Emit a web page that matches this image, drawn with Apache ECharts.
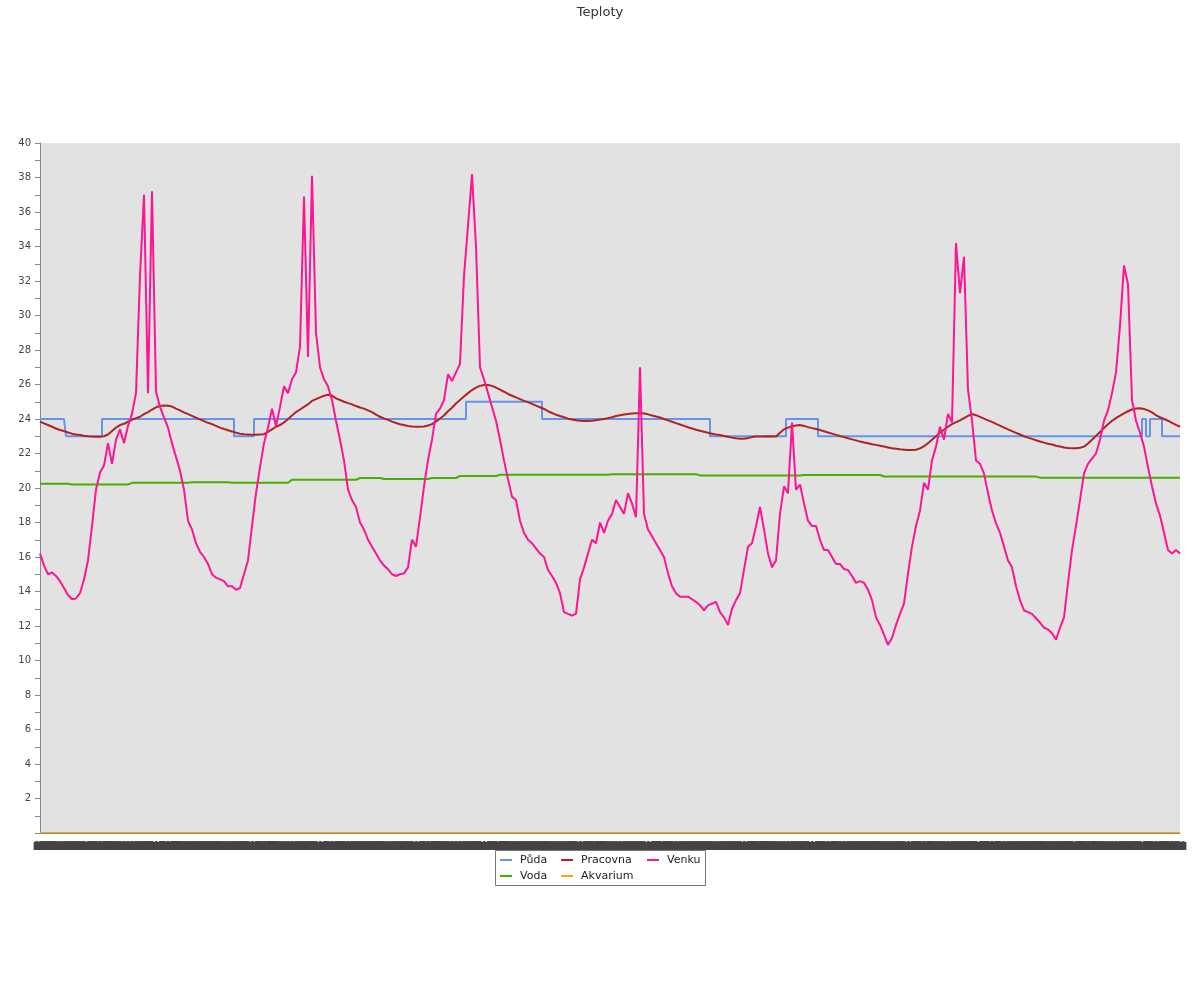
<!DOCTYPE html>
<html><head><meta charset="utf-8">
<script src="https://cdn.jsdelivr.net/npm/echarts@6/dist/echarts.min.js"></script>
<style>html,body{margin:0;padding:0;background:#fff}#c{width:1200px;height:1000px}</style>
</head><body><div id="c"></div>
<script>
// time axis: 286 samples, ~35 min apart, starting 22:00
const startMinute = 22 * 60;
const stepMinutes = 35;
const pointCount = 286;

const puda = [
24,24,24,24,24,24,24,23,23,23,
23,23,23,23,23,23,24,24,24,24,
24,24,24,24,24,24,24,24,24,24,
24,24,24,24,24,24,24,24,24,24,
24,24,24,24,24,24,24,24,24,23,
23,23,23,23,24,24,24,24,24,24,
24,24,24,24,24,24,24,24,24,24,
24,24,24,24,24,24,24,24,24,24,
24,24,24,24,24,24,24,24,24,24,
24,24,24,24,24,24,24,24,24,24,
24,24,24,24,24,24,24,25,25,25,
25,25,25,25,25,25,25,25,25,25,
25,25,25,25,25,25,24,24,24,24,
24,24,24,24,24,24,24,24,24,24,
24,24,24,24,24,24,24,24,24,24,
24,24,24,24,24,24,24,24,24,24,
24,24,24,24,24,24,24,24,23,23,
23,23,23,23,23,23,23,23,23,23,
23,23,23,23,23,23,23,24,24,24,
24,24,24,24,24,23,23,23,23,23,
23,23,23,23,23,23,23,23,23,23,
23,23,23,23,23,23,23,23,23,23,
23,23,23,23,23,23,23,23,23,23,
23,23,23,23,23,23,23,23,23,23,
23,23,23,23,23,23,23,23,23,23,
23,23,23,23,23,23,23,23,23,23,
23,23,23,23,23,23,23,23,23,23,
23,23,23,23,23,23,24,23,24,24,
24,23,23,23,23,23];

const voda = [
20.25,20.25,20.25,20.25,20.25,20.25,20.25,20.25,20.2,20.2,
20.2,20.2,20.2,20.2,20.2,20.2,20.2,20.2,20.2,20.2,
20.2,20.2,20.2,20.3,20.3,20.3,20.3,20.3,20.3,20.3,
20.3,20.3,20.3,20.3,20.3,20.3,20.3,20.3,20.33,20.33,
20.33,20.33,20.33,20.33,20.33,20.33,20.33,20.33,20.3,20.3,
20.3,20.3,20.3,20.3,20.3,20.3,20.3,20.3,20.3,20.3,
20.3,20.3,20.3,20.48,20.48,20.48,20.48,20.48,20.48,20.48,
20.48,20.48,20.48,20.48,20.48,20.48,20.48,20.48,20.48,20.48,
20.58,20.58,20.58,20.58,20.58,20.58,20.52,20.52,20.52,20.52,
20.52,20.52,20.52,20.52,20.52,20.52,20.52,20.52,20.58,20.58,
20.58,20.58,20.58,20.58,20.58,20.7,20.7,20.7,20.7,20.7,
20.7,20.7,20.7,20.7,20.7,20.77,20.77,20.77,20.77,20.77,
20.77,20.77,20.77,20.77,20.77,20.77,20.77,20.77,20.77,20.77,
20.77,20.77,20.77,20.77,20.77,20.77,20.77,20.77,20.77,20.77,
20.77,20.77,20.77,20.8,20.8,20.8,20.8,20.8,20.8,20.8,
20.8,20.8,20.8,20.8,20.8,20.8,20.8,20.8,20.8,20.8,
20.8,20.8,20.8,20.8,20.8,20.73,20.73,20.73,20.73,20.73,
20.73,20.73,20.73,20.73,20.73,20.73,20.73,20.73,20.73,20.73,
20.73,20.73,20.73,20.73,20.73,20.73,20.73,20.73,20.73,20.73,
20.73,20.75,20.75,20.75,20.75,20.75,20.75,20.75,20.75,20.75,
20.75,20.75,20.75,20.75,20.75,20.75,20.75,20.75,20.75,20.75,
20.75,20.67,20.67,20.67,20.67,20.67,20.67,20.67,20.67,20.67,
20.67,20.67,20.67,20.67,20.67,20.67,20.67,20.67,20.67,20.67,
20.67,20.67,20.67,20.67,20.67,20.67,20.67,20.67,20.66,20.66,
20.66,20.66,20.66,20.66,20.66,20.66,20.66,20.66,20.66,20.66,
20.6,20.6,20.6,20.6,20.6,20.6,20.6,20.6,20.6,20.6,
20.6,20.6,20.6,20.6,20.6,20.6,20.6,20.6,20.6,20.6,
20.6,20.6,20.6,20.6,20.6,20.6,20.6,20.6,20.6,20.6,
20.6,20.6,20.6,20.6,20.6,20.6];

const pracovna = [
23.85,23.75,23.65,23.55,23.45,23.36,23.3,23.22,23.15,23.1,
23.07,23.03,23.0,22.98,22.97,22.97,23.0,23.1,23.3,23.5,
23.65,23.72,23.85,23.95,24.05,24.13,24.28,24.4,24.55,24.68,
24.75,24.78,24.77,24.72,24.6,24.5,24.38,24.28,24.18,24.08,
23.98,23.88,23.78,23.7,23.6,23.5,23.42,23.35,23.28,23.2,
23.15,23.12,23.1,23.08,23.08,23.1,23.12,23.25,23.4,23.55,
23.65,23.8,24.0,24.2,24.4,24.55,24.7,24.85,25.05,25.15,
25.25,25.35,25.4,25.35,25.2,25.1,25.0,24.92,24.85,24.75,
24.67,24.6,24.5,24.4,24.25,24.13,24.03,23.95,23.85,23.77,
23.7,23.65,23.6,23.56,23.55,23.55,23.57,23.62,23.7,23.85,
24.03,24.2,24.45,24.65,24.9,25.1,25.3,25.5,25.68,25.82,
25.92,25.97,25.97,25.92,25.82,25.7,25.58,25.45,25.35,25.25,
25.15,25.05,24.98,24.88,24.78,24.68,24.58,24.45,24.35,24.25,
24.17,24.1,24.02,23.97,23.93,23.9,23.88,23.88,23.9,23.93,
23.97,24.0,24.05,24.1,24.17,24.22,24.26,24.29,24.32,24.34,
24.35,24.32,24.27,24.2,24.14,24.09,24.0,23.92,23.84,23.76,
23.68,23.6,23.52,23.45,23.38,23.32,23.26,23.2,23.15,23.1,
23.07,23.02,22.97,22.92,22.88,22.85,22.86,22.9,22.95,22.98,
22.98,22.98,23.0,22.98,22.98,23.2,23.4,23.5,23.58,23.62,
23.65,23.6,23.53,23.47,23.42,23.36,23.29,23.22,23.15,23.08,
23.01,22.95,22.88,22.82,22.76,22.69,22.64,22.59,22.54,22.5,
22.45,22.4,22.35,22.3,22.27,22.24,22.22,22.2,22.2,22.22,
22.3,22.42,22.6,22.8,23.0,23.2,23.38,23.55,23.7,23.82,
23.92,24.05,24.18,24.29,24.22,24.12,24.02,23.92,23.83,23.72,
23.62,23.5,23.4,23.3,23.2,23.1,23.0,22.92,22.85,22.77,
22.7,22.63,22.57,22.52,22.45,22.4,22.35,22.32,22.3,22.3,
22.33,22.4,22.58,22.8,23.02,23.25,23.48,23.7,23.9,24.05,
24.2,24.33,24.45,24.55,24.61,24.62,24.58,24.5,24.38,24.22,
24.1,24.0,23.9,23.78,23.66,23.55];

const akvarium = [
0,0,0,0,0,0,0,0,0,0, 0,0,0,0,0,0,0,0,0,0, 0,0,0,0,0,0,0,0,0,0,
0,0,0,0,0,0,0,0,0,0, 0,0,0,0,0,0,0,0,0,0, 0,0,0,0,0,0,0,0,0,0,
0,0,0,0,0,0,0,0,0,0, 0,0,0,0,0,0,0,0,0,0, 0,0,0,0,0,0,0,0,0,0,
0,0,0,0,0,0,0,0,0,0, 0,0,0,0,0,0,0,0,0,0, 0,0,0,0,0,0,0,0,0,0,
0,0,0,0,0,0,0,0,0,0, 0,0,0,0,0,0,0,0,0,0, 0,0,0,0,0,0,0,0,0,0,
0,0,0,0,0,0,0,0,0,0, 0,0,0,0,0,0,0,0,0,0, 0,0,0,0,0,0,0,0,0,0,
0,0,0,0,0,0,0,0,0,0, 0,0,0,0,0,0,0,0,0,0, 0,0,0,0,0,0,0,0,0,0,
0,0,0,0,0,0,0,0,0,0, 0,0,0,0,0,0,0,0,0,0, 0,0,0,0,0,0,0,0,0,0,
0,0,0,0,0,0,0,0,0,0, 0,0,0,0,0,0,0,0,0,0, 0,0,0,0,0,0,0,0,0,0,
0,0,0,0,0,0,0,0,0,0, 0,0,0,0,0,0];

const venku = [
16.2,15.5,15.0,15.1,14.9,14.6,14.2,13.8,13.55,13.6,
13.9,14.7,15.8,17.8,19.9,20.9,21.3,22.6,21.4,22.8,
23.4,22.6,23.6,24.3,25.5,32.3,37.0,25.5,37.2,25.6,
24.7,24.1,23.5,22.6,21.8,21.0,19.9,18.1,17.6,16.8,
16.3,16.0,15.6,15.0,14.8,14.7,14.6,14.3,14.3,14.1,
14.2,15.0,15.8,17.8,19.7,21.2,22.6,23.5,24.6,23.6,
24.7,25.9,25.5,26.3,26.7,28.2,36.9,27.6,38.1,29.0,
27.0,26.3,25.9,25.1,23.9,22.8,21.6,19.9,19.3,18.9,
18.0,17.6,17.0,16.6,16.2,15.8,15.5,15.3,15.0,14.9,
15.0,15.05,15.4,17.0,16.6,18.3,20.1,21.6,22.8,24.3,
24.6,25.1,26.6,26.2,26.7,27.2,32.3,35.2,38.2,34.0,
27.0,26.3,25.5,24.7,23.9,22.8,21.6,20.5,19.5,19.3,
18.1,17.4,17.0,16.8,16.5,16.2,16.0,15.25,14.9,14.5,
13.9,12.8,12.7,12.6,12.7,14.7,15.4,16.2,17.0,16.8,
18.0,17.4,18.1,18.5,19.3,18.9,18.5,19.7,19.1,18.3,
27.0,18.5,17.6,17.2,16.8,16.4,16.0,15.05,14.3,13.9,
13.7,13.7,13.7,13.55,13.4,13.2,12.9,13.2,13.3,13.4,
12.8,12.5,12.06,13.0,13.5,13.9,15.25,16.6,16.8,17.8,
18.9,17.6,16.2,15.4,15.8,18.5,20.1,19.7,23.8,19.9,
20.2,19.1,18.1,17.8,17.8,17.0,16.4,16.4,16.0,15.6,
15.6,15.3,15.25,14.9,14.5,14.6,14.5,14.1,13.5,12.5,
12.06,11.5,10.9,11.3,12.06,12.7,13.3,15.05,16.6,17.8,
18.7,20.3,19.9,21.6,22.4,23.55,22.8,24.3,23.8,34.2,
31.3,33.4,25.7,23.9,21.6,21.4,20.85,19.7,18.7,17.95,
17.4,16.6,15.8,15.4,14.3,13.5,12.9,12.8,12.7,12.45,
12.2,11.9,11.8,11.6,11.2,11.9,12.5,14.5,16.4,17.8,
19.3,20.85,21.4,21.7,22.0,22.8,23.9,24.5,25.5,26.7,
29.4,32.9,31.8,25.1,23.9,23.2,22.4,21.2,20.1,19.1,
18.4,17.4,16.4,16.2,16.4,16.2];

const seriesNames = ['Půda', 'Voda', 'Pracovna', 'Akvarium', 'Venku'];
const seriesColors = ['#6495ED', '#44B000', '#B22222', '#FFA500', '#FF1493'];
const seriesData = [puda, voda, pracovna, akvarium, venku];

// category labels: hour of each sample
const categories = [];
for (let i = 0; i < pointCount; i++) {
  const m = (startMinute + i * stepMinutes) % 1440;
  categories.push(String(Math.floor(m / 60)).padStart(2, '0'));
}

const chart = echarts.init(document.getElementById('c'), null, {renderer: 'canvas'});
const FONT = 'DejaVu Sans';
const legendBase = {
  orient: 'vertical', top: 853, itemGap: 2, itemWidth: 12, itemHeight: 2,
  icon: 'rect', padding: 0, selectedMode: false,
  textStyle: {fontFamily: FONT, fontSize: 11, color: '#222', lineHeight: 14, padding: [0, 0, 0, 3]}
};
chart.setOption({
  animation: false,
  backgroundColor: '#fff',
  title: {text: 'Teploty', left: 'center', top: 1,
    textStyle: {fontFamily: FONT, fontSize: 13, fontWeight: 'normal', color: '#333'}},
  graphic: [{type: 'rect', shape: {x: 495.5, y: 850.5, width: 210, height: 35},
    style: {fill: '#fff', stroke: '#777', lineWidth: 1}, z: 0, silent: true}],
  legend: [
    Object.assign({}, legendBase, {left: 500, data: ['Půda', 'Voda']}),
    Object.assign({}, legendBase, {left: 561, data: ['Pracovna', 'Akvarium']}),
    Object.assign({}, legendBase, {left: 647, data: ['Venku']})
  ],
  grid: {left: 40, right: 20, top: 143, bottom: 167, show: true,
    backgroundColor: '#E2E2E2', borderWidth: 0},
  xAxis: {
    type: 'category', data: categories, boundaryGap: false, z: 20,
    axisLine: {lineStyle: {color: '#888', width: 1}},
    axisTick: {show: false},
    axisLabel: {interval: 0, margin: 9, fontFamily: FONT, fontSize: 10, color: '#444',
      backgroundColor: '#444', lineHeight: 8, padding: 0},
    splitLine: {show: false}
  },
  yAxis: {
    type: 'value', min: 0, max: 40, interval: 2,
    axisLine: {show: true, lineStyle: {color: '#888'}},
    axisTick: {show: true, length: 5, lineStyle: {color: '#888'}},
    minorTick: {show: true, splitNumber: 2, length: 5, lineStyle: {color: '#888'}},
    axisLabel: {margin: 9, fontFamily: FONT, fontSize: 10, color: '#444',
      formatter: v => (v === 0 ? '' : String(v))},
    splitLine: {show: false}
  },
  series: seriesNames.map((n, k) => ({
    name: n, type: 'line', data: seriesData[k], showSymbol: false, symbol: 'none',
    step: n === 'Půda' ? 'middle' : false,
    color: seriesColors[k],
    lineStyle: {width: 2, color: seriesColors[k]},
    z: 2 + k
  }))
});
</script></body></html>
